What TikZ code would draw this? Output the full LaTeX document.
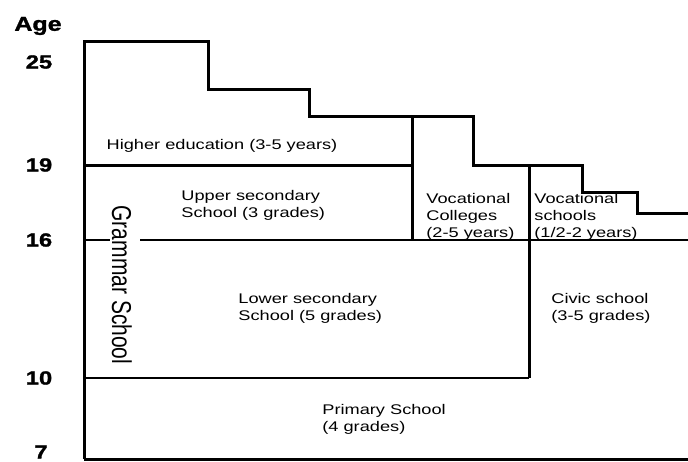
\documentclass[tikz,border=0pt]{standalone}
\usepackage{fontspec}
\setmainfont{Liberation Sans}
\newfontfamily\schoolfont[FakeStretch=1.3]{Liberation Sans}
\newfontfamily\agefont[FakeStretch=1.25, FakeBold=1.5]{Liberation Sans}
\usetikzlibrary{positioning}

\begin{document}
\begin{tikzpicture}[x=0.5pt, y=-0.5pt,
			outline/.style={line width=1.5pt, line join=miter},
			divider/.style={line width=1pt},
			agelabel/.style={font=\agefont\fontsize{9.5}{11}\selectfont\bfseries, inner sep=0pt},
			schoollabel/.style={font=\schoolfont\fontsize{7}{8.5}\selectfont, align=left, inner sep=0pt}
			]
			\useasboundingbox (0,0) rectangle (688,461);
			% ages on the left
			\node[agelabel, anchor=west, font=\agefont\fontsize{10}{12}\selectfont\bfseries] (age) at (14,26) {Age};
			\node[agelabel] (a25) at (39,62) {25};
			\node[agelabel] (a19) at (39,165) {19};
			\node[agelabel] (a16) at (39,240) {16};
			\node[agelabel] (a10) at (39,378) {10};
			\node[agelabel] (a7) at (41,452) {7};
			% staircase outline
			\draw[outline] (84,459) -- (84,41) -- (208,41) -- (208,89) -- (309,89) -- (309,116) -- (473,116) -- (473,165) -- (582,165) -- (582,192) -- (637,192) -- (637,213) -- (688,213);
			\draw[outline] (84,459) -- (688,459);
			\draw[outline] (84,165) -- (412,165);
			\draw[outline] (412,116) -- (412,240);
			\draw[outline] (529,165) -- (529,378);
			\draw[divider] (84,240) -- (110,240);
			\draw[divider] (140,240) -- (688,240);
			\draw[divider] (84,378) -- (529,378);
			% school types
			\node[schoollabel] (higher) at (222,146) {Higher education (3-5 years)};
			\node[schoollabel, anchor=west] (upper) at (181,205) {Upper secondary\\School (3 grades)};
			\node[schoollabel, anchor=west] (vcoll) at (426,217) {Vocational\\Colleges\\(2-5 years)};
			\node[schoollabel, anchor=west] (vschool) at (534,217) {Vocational\\schools\\(1/2-2 years)};
			\node[schoollabel, anchor=west] (lower) at (238,308) {Lower secondary\\School (5 grades)};
			\node[schoollabel, anchor=west] (civic) at (551,308) {Civic school\\(3-5 grades)};
			\node[schoollabel, anchor=west] (primary) at (322,419) {Primary School\\(4 grades)};
			\node[rotate=-90, inner sep=0pt, font=\fontsize{10.5}{12}\selectfont] (grammar) at (122,285) {\scalebox{1}[1.3]{Grammar School}};
		\end{tikzpicture}
\end{document}
